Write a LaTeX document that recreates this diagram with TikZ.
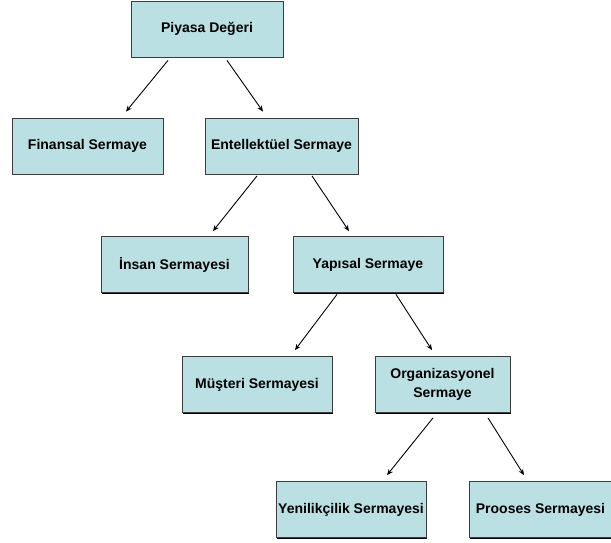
\documentclass[tikz,border=0pt]{standalone}
\usepackage{fontspec}
\setmainfont{Liberation Sans}
\usetikzlibrary{arrows.meta,shadows}
\definecolor{boxfill}{RGB}{187,224,227}
\definecolor{boxline}{RGB}{60,60,60}
\tikzset{
  capbox/.style={rectangle, draw=boxline, line width=0.8pt, fill=boxfill,
    minimum width=#1, minimum height=56pt, inner sep=0pt, align=center,
    font=\fontsize{14}{19}\selectfont\bfseries,
    drop shadow={shadow xshift=1.3pt, shadow yshift=-1.3pt, fill=black, opacity=1}},
  capbox/.default=151pt,
  link/.style={draw=black, line width=0.9pt, -{Stealth[length=6pt,width=5pt]}}
}
\begin{document}
\begin{tikzpicture}[x=1pt,y=-1pt]
\useasboundingbox (0,0) rectangle (611,542);
% boxes (centres in pixel-like units, y grows downward)
\node[capbox=152pt] (piyasa) at (207,29) {Piyasa Değeri};
\node[capbox=151pt] (finans) at (87.5,146) {Finansal Sermaye};
\node[capbox=153pt] (entel) at (281.5,146) {Entellektüel Sermaye};
\node[capbox=147pt] (insan) at (174.5,264.5) {İnsan Sermayesi};
\node[capbox=150pt] (yapi) at (368,264.5) {Yapısal Sermaye};
\node[capbox=150pt] (musteri) at (257,384.5) {Müşteri Sermayesi};
\node[capbox=135pt] (organ) at (442.5,384.5) {Organizasyonel\\Sermaye};
\node[capbox=150pt] (yenilik) at (351,509.5) {Yenilikçilik Sermayesi};
\node[capbox=143pt] (proses) at (540.5,509.5) {Prooses Sermayesi};
% connectors
\draw[link] ([xshift=-39pt,yshift=-3pt]piyasa.south) -- ([xshift=38.5pt,yshift=6pt]finans.north);
\draw[link] ([xshift=20pt,yshift=-3pt]piyasa.south) -- ([xshift=-18.5pt,yshift=6pt]entel.north);
\draw[link] ([xshift=-24.5pt,yshift=-1.5pt]entel.south) -- ([xshift=38.5pt,yshift=5pt]insan.north);
\draw[link] ([xshift=30.5pt,yshift=-1.5pt]entel.south) -- ([xshift=-19pt,yshift=5pt]yapi.north);
\draw[link] ([xshift=-31pt,yshift=-1.5pt]yapi.south) -- ([xshift=38pt,yshift=6pt]musteri.north);
\draw[link] ([xshift=28pt,yshift=-1.5pt]yapi.south) -- ([xshift=-10.5pt,yshift=6pt]organ.north);
\draw[link] ([xshift=-9.5pt,yshift=-5pt]organ.south) -- ([xshift=36pt,yshift=6pt]yenilik.north);
\draw[link] ([xshift=45.5pt,yshift=-5pt]organ.south) -- ([xshift=-16.5pt,yshift=6pt]proses.north);
\end{tikzpicture}
\end{document}
